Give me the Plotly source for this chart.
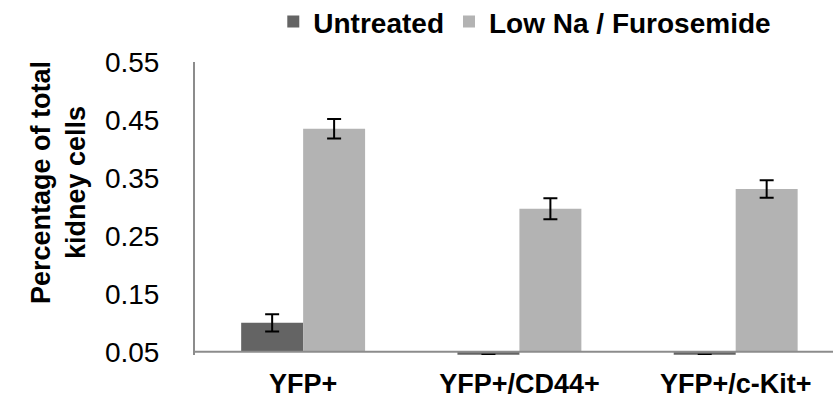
import plotly.graph_objects as go

# Cell populations on the x axis
categories = ["YFP+", "YFP+/CD44+", "YFP+/c-Kit+"]

# Percentage of total kidney cells per condition, with error sizes
untreated = [0.10, 0.045, 0.045]
untreated_err = [0.015, None, None]
low_na = [0.435, 0.297, 0.331]
low_na_err = [0.017, 0.018, 0.015]

# The value axis starts at 0.05 and bars grow from that baseline
baseline = 0.05
y_ticks = [0.05, 0.15, 0.25, 0.35, 0.45, 0.55]

dark = "#646464"
light = "#b3b3b3"
axis_grey = "#8c8c8c"
font_family = "Liberation Sans, Arial, sans-serif"


def above_base(values):
    return [v - baseline for v in values]


fig = go.Figure()
fig.add_trace(go.Bar(
    name="Untreated", x=categories, y=above_base(untreated), base=baseline,
    marker=dict(color=dark, line=dict(width=0)),
    error_y=dict(type="data", array=untreated_err, visible=True,
                 color="black", thickness=2, width=7),
))
fig.add_trace(go.Bar(
    name="Low Na / Furosemide", x=categories, y=above_base(low_na), base=baseline,
    marker=dict(color=light, line=dict(width=0)),
    error_y=dict(type="data", array=low_na_err, visible=True,
                 color="black", thickness=2, width=7),
))

# Horizontal axis line drawn where the value axis crosses (0.05)
fig.add_shape(type="line", xref="paper", x0=0, x1=1, yref="y",
              y0=baseline, y1=baseline,
              line=dict(color=axis_grey, width=2), layer="above")

# Value-axis title, placed a little above the middle of the axis
fig.add_annotation(
    text="Percentage of total<br>kidney cells", textangle=-90,
    xref="paper", yref="paper", x=-0.215, y=0.59,
    xanchor="center", yanchor="middle", showarrow=False,
    font=dict(size=27, weight="bold", family=font_family, color="black"),
)

fig.update_layout(
    width=833, height=406,
    margin=dict(l=195, r=0, t=58, b=51),
    paper_bgcolor="white", plot_bgcolor="white",
    barmode="group", bargap=0.427, bargroupgap=0,
    font=dict(family=font_family, color="black"),
    showlegend=True,
    legend=dict(
        orientation="h", xref="container", yref="container",
        x=0.63, xanchor="center", y=0.946, yanchor="middle",
        font=dict(size=28, family=font_family, weight="bold"),
        itemwidth=30, tracegroupgap=0,
    ),
    xaxis=dict(
        type="category", range=[-0.5, 2.45],
        showline=False, showgrid=False, zeroline=False, ticks="",
        tickfont=dict(size=27, weight="bold"),
        ticklabelstandoff=10,
    ),
    yaxis=dict(
        range=[0.0445, 0.55], tickvals=y_ticks, tickformat=".2f",
        showline=True, linecolor=axis_grey, linewidth=2,
        showgrid=False, zeroline=False, ticks="",
        ticklabelstandoff=28,
        tickfont=dict(size=28),
    ),
)

fig.write_html("out.html")
